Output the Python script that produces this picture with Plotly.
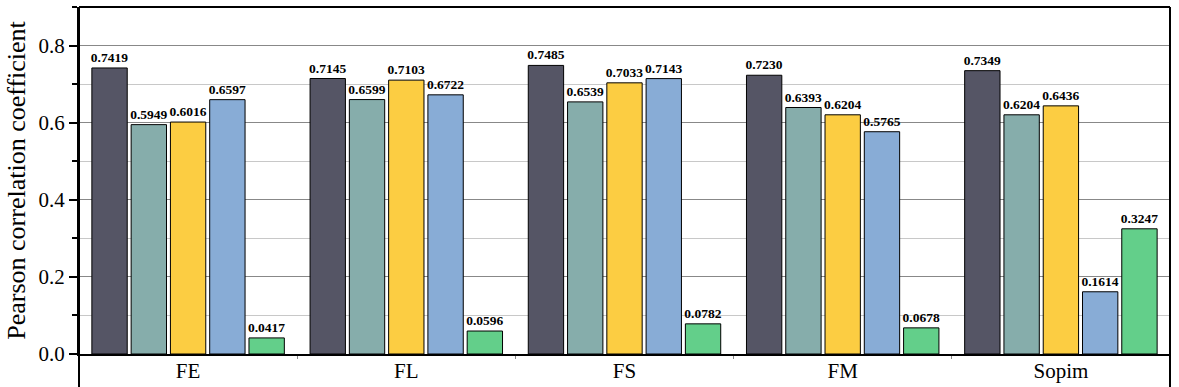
import plotly.graph_objects as go

categories = ["FE", "FL", "FS", "FM", "Sopim"]
series_names = ["Method 1", "Method 2", "Method 3", "Method 4", "Method 5"]
values = [
    [0.7419, 0.7145, 0.7485, 0.7230, 0.7349],
    [0.5949, 0.6599, 0.6539, 0.6393, 0.6204],
    [0.6016, 0.7103, 0.7033, 0.6204, 0.6436],
    [0.6597, 0.6722, 0.7143, 0.5765, 0.1614],
    [0.0417, 0.0596, 0.0782, 0.0678, 0.3247],
]
colors = ["#555565", "#86adab", "#fccd42", "#88acd6", "#63cf8a"]

FONT = "Liberation Serif"

fig = go.Figure()
for name, vals, col in zip(series_names, values, colors):
    fig.add_trace(go.Bar(
        x=categories, y=vals, name=name,
        marker=dict(color=col, line=dict(color="black", width=1)),
        text=[f"{v:.4f}" for v in vals],
        textposition="outside",
        constraintext="none",
        cliponaxis=False,
        textfont=dict(family=FONT, size=13.5, color="black", weight="bold"),
    ))

# frame lines (Origin style, spines run past the x axis)
for x in (0, 1):
    fig.add_shape(type="line", xref="paper", yref="paper", x0=x, x1=x, y0=1, y1=-0.1,
                  line=dict(color="black", width=2))
fig.add_shape(type="line", xref="paper", yref="paper", x0=0, x1=1, y0=1, y1=1,
              line=dict(color="black", width=2))

fig.update_layout(
    width=1179, height=387,
    margin=dict(l=79, r=9, t=7, b=33),
    plot_bgcolor="white", paper_bgcolor="white",
    barmode="group", bargap=0.1, bargroupgap=0.1,
    showlegend=False,
    font=dict(family=FONT, color="black", size=20),
    xaxis=dict(
        showline=True, linecolor="black", linewidth=2,
        ticks="outside", tickson="boundaries", ticklen=3, tickcolor="#888888",
        ticklabelstandoff=-3,
        tickfont=dict(family=FONT, size=21), range=[-0.5, 4.5], automargin=False,
    ),
    yaxis=dict(
        range=[0, 0.9], dtick=0.2, tickformat=".1f",
        showline=True, linecolor="black", linewidth=2,
        ticks="outside", ticklen=8, tickwidth=2, tickcolor="black",
        showgrid=True, gridcolor="#888888", gridwidth=1,
        minor=dict(dtick=0.1, ticks="outside", ticklen=5, tickwidth=2, tickcolor="black",
                   showgrid=True, gridcolor="#c8c8c8", gridwidth=1),
        tickfont=dict(family=FONT, size=21),
        title=dict(text="Pearson correlation coefficient", font=dict(family=FONT, size=26), standoff=5),
        zeroline=False, automargin=False,
    ),
)

# drop the default page margin so the figure sits at the window corner
fig.write_html("out.html", config={"displayModeBar": False},
               post_script="document.body.style.margin='0';")
